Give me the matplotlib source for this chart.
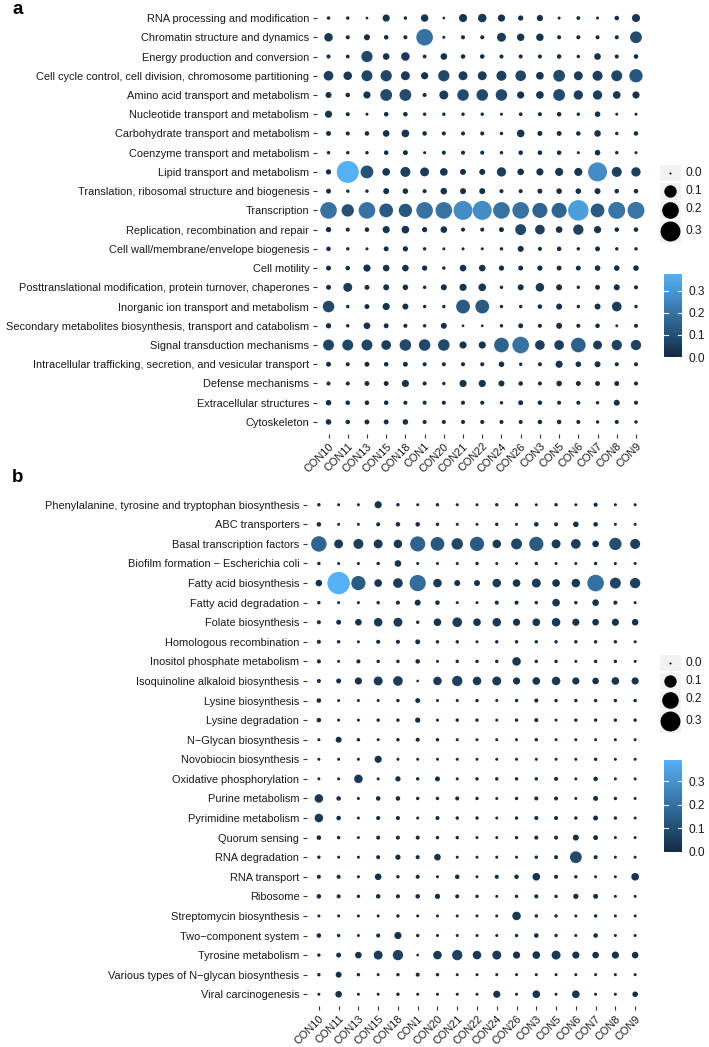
import numpy as np
import matplotlib
matplotlib.use("Agg")
import matplotlib.pyplot as plt
from matplotlib.colors import LinearSegmentedColormap, Normalize
from matplotlib.cm import ScalarMappable
from matplotlib.patches import Rectangle

plt.rcParams['font.family'] = ['Liberation Sans', 'DejaVu Sans']

# ---------------- data ----------------
samples = ["CON10", "CON11", "CON13", "CON15", "CON18", "CON1", "CON20", "CON21", "CON22",
           "CON24", "CON26", "CON3", "CON5", "CON6", "CON7", "CON8", "CON9"]

cats_a = [
    "RNA processing and modification",
    "Chromatin structure and dynamics",
    "Energy production and conversion",
    "Cell cycle control, cell division, chromosome partitioning",
    "Amino acid transport and metabolism",
    "Nucleotide transport and metabolism",
    "Carbohydrate transport and metabolism",
    "Coenzyme transport and metabolism",
    "Lipid transport and metabolism",
    "Translation, ribosomal structure and biogenesis",
    "Transcription",
    "Replication, recombination and repair",
    "Cell wall/membrane/envelope biogenesis",
    "Cell motility",
    "Posttranslational modification, protein turnover, chaperones",
    "Inorganic ion transport and metabolism",
    "Secondary metabolites biosynthesis, transport and catabolism",
    "Signal transduction mechanisms",
    "Intracellular trafficking, secretion, and vesicular transport",
    "Defense mechanisms",
    "Extracellular structures",
    "Cytoskeleton",
]

vals_a = [
    [0.002, 0.002, 0.0005, 0.025, 0.002, 0.028, 0.0005, 0.035, 0.04, 0.025, 0.01, 0.017, 0.001, 0.003, 0.001, 0.006, 0.035],
    [0.04, 0.004, 0.015, 0.006, 0.004, 0.2, 0.001, 0.004, 0.004, 0.045, 0.028, 0.028, 0.004, 0.004, 0.004, 0.004, 0.09],
    [0.004, 0.003, 0.08, 0.02, 0.04, 0.003, 0.02, 0.006, 0.006, 0.004, 0.004, 0.004, 0.006, 0.002, 0.02, 0.004, 0.006],
    [0.055, 0.04, 0.075, 0.08, 0.045, 0.025, 0.08, 0.045, 0.045, 0.06, 0.07, 0.03, 0.09, 0.045, 0.06, 0.075, 0.12],
    [0.015, 0.006, 0.025, 0.09, 0.09, 0.004, 0.045, 0.085, 0.085, 0.085, 0.025, 0.03, 0.09, 0.05, 0.05, 0.03, 0.025],
    [0.025, 0.004, 0.001, 0.006, 0.006, 0.002, 0.002, 0.002, 0.002, 0.001, 0.003, 0.004, 0.006, 0.002, 0.012, 0.001, 0.001],
    [0.008, 0.004, 0.006, 0.02, 0.03, 0.006, 0.004, 0.004, 0.004, 0.002, 0.03, 0.008, 0.008, 0.006, 0.02, 0.002, 0.006],
    [0.002, 0.002, 0.002, 0.006, 0.008, 0.001, 0.004, 0.004, 0.004, 0.002, 0.006, 0.006, 0.006, 0.001, 0.012, 0.002, 0.001],
    [0.01, 0.375, 0.11, 0.03, 0.06, 0.045, 0.03, 0.015, 0.015, 0.05, 0.02, 0.025, 0.035, 0.035, 0.27, 0.06, 0.05],
    [0.008, 0.002, 0.002, 0.015, 0.012, 0.004, 0.02, 0.015, 0.015, 0.004, 0.004, 0.008, 0.012, 0.012, 0.015, 0.006, 0.006],
    [0.2, 0.1, 0.2, 0.13, 0.12, 0.2, 0.2, 0.27, 0.27, 0.2, 0.2, 0.16, 0.16, 0.32, 0.13, 0.21, 0.21],
    [0.01, 0.004, 0.006, 0.025, 0.03, 0.01, 0.02, 0.004, 0.004, 0.008, 0.075, 0.055, 0.02, 0.065, 0.025, 0.006, 0.006],
    [0.006, 0.002, 0.001, 0.008, 0.01, 0.002, 0.001, 0.001, 0.001, 0.002, 0.015, 0.004, 0.006, 0.002, 0.008, 0.002, 0.002],
    [0.008, 0.006, 0.025, 0.02, 0.02, 0.01, 0.002, 0.02, 0.02, 0.01, 0.008, 0.01, 0.008, 0.008, 0.012, 0.012, 0.012],
    [0.008, 0.045, 0.008, 0.015, 0.012, 0.002, 0.015, 0.025, 0.03, 0.002, 0.015, 0.04, 0.015, 0.002, 0.008, 0.015, 0.004],
    [0.085, 0.002, 0.008, 0.025, 0.015, 0.002, 0.002, 0.13, 0.13, 0.002, 0.002, 0.006, 0.015, 0.002, 0.015, 0.055, 0.002],
    [0.01, 0.002, 0.02, 0.008, 0.004, 0.002, 0.015, 0.0005, 0.0005, 0.002, 0.008, 0.004, 0.015, 0.004, 0.006, 0.0008, 0.004],
    [0.075, 0.075, 0.075, 0.055, 0.085, 0.085, 0.085, 0.025, 0.025, 0.15, 0.2, 0.055, 0.055, 0.15, 0.045, 0.065, 0.065],
    [0.008, 0.004, 0.008, 0.006, 0.008, 0.004, 0.004, 0.004, 0.004, 0.012, 0.002, 0.004, 0.025, 0.012, 0.015, 0.004, 0.004],
    [0.004, 0.004, 0.008, 0.008, 0.025, 0.004, 0.002, 0.025, 0.025, 0.015, 0.006, 0.004, 0.012, 0.008, 0.008, 0.008, 0.004],
    [0.012, 0.006, 0.006, 0.006, 0.004, 0.004, 0.004, 0.004, 0.004, 0.002, 0.008, 0.006, 0.004, 0.004, 0.002, 0.015, 0.004],
    [0.012, 0.006, 0.008, 0.008, 0.012, 0.004, 0.004, 0.004, 0.004, 0.004, 0.004, 0.006, 0.006, 0.004, 0.002, 0.004, 0.002],
]

cats_b = [
    "Phenylalanine, tyrosine and tryptophan biosynthesis",
    "ABC transporters",
    "Basal transcription factors",
    "Biofilm formation \u2212 Escherichia coli",
    "Fatty acid biosynthesis",
    "Fatty acid degradation",
    "Folate biosynthesis",
    "Homologous recombination",
    "Inositol phosphate metabolism",
    "Isoquinoline alkaloid biosynthesis",
    "Lysine biosynthesis",
    "Lysine degradation",
    "N\u2212Glycan biosynthesis",
    "Novobiocin biosynthesis",
    "Oxidative phosphorylation",
    "Purine metabolism",
    "Pyrimidine metabolism",
    "Quorum sensing",
    "RNA degradation",
    "RNA transport",
    "Ribosome",
    "Streptomycin biosynthesis",
    "Two\u2212component system",
    "Tyrosine metabolism",
    "Various types of N\u2212glycan biosynthesis",
    "Viral carcinogenesis",
]

vals_b = [
    [0.002, 0.001, 0.001, 0.025, 0.002, 0.001, 0.002, 0.001, 0.001, 0.002, 0.002, 0.001, 0.002, 0.001, 0.004, 0.001, 0.001],
    [0.006, 0.001, 0.001, 0.004, 0.006, 0.006, 0.002, 0.001, 0.001, 0.002, 0.001, 0.006, 0.004, 0.012, 0.006, 0.001, 0.001],
    [0.17, 0.045, 0.06, 0.045, 0.04, 0.16, 0.13, 0.085, 0.14, 0.04, 0.075, 0.14, 0.045, 0.055, 0.02, 0.1, 0.06],
    [0.002, 0.001, 0.001, 0.002, 0.02, 0.001, 0.001, 0.001, 0.002, 0.001, 0.001, 0.002, 0.001, 0.001, 0.002, 0.001, 0.001],
    [0.02, 0.39, 0.14, 0.03, 0.055, 0.19, 0.04, 0.015, 0.015, 0.04, 0.03, 0.045, 0.03, 0.04, 0.2, 0.075, 0.065],
    [0.002, 0.001, 0.001, 0.002, 0.004, 0.015, 0.006, 0.001, 0.001, 0.004, 0.004, 0.002, 0.03, 0.002, 0.02, 0.004, 0.001],
    [0.004, 0.008, 0.02, 0.04, 0.045, 0.002, 0.03, 0.055, 0.03, 0.04, 0.025, 0.03, 0.04, 0.025, 0.02, 0.025, 0.02],
    [0.004, 0.002, 0.001, 0.004, 0.004, 0.008, 0.002, 0.002, 0.001, 0.002, 0.002, 0.002, 0.002, 0.002, 0.002, 0.002, 0.001],
    [0.004, 0.001, 0.004, 0.002, 0.002, 0.006, 0.001, 0.002, 0.002, 0.002, 0.04, 0.002, 0.002, 0.001, 0.002, 0.002, 0.001],
    [0.004, 0.008, 0.025, 0.045, 0.055, 0.0005, 0.04, 0.065, 0.04, 0.045, 0.025, 0.03, 0.04, 0.025, 0.02, 0.03, 0.025],
    [0.006, 0.001, 0.001, 0.001, 0.002, 0.008, 0.001, 0.001, 0.002, 0.001, 0.002, 0.004, 0.002, 0.002, 0.002, 0.002, 0.002],
    [0.006, 0.001, 0.001, 0.002, 0.002, 0.01, 0.001, 0.002, 0.002, 0.001, 0.002, 0.004, 0.001, 0.002, 0.002, 0.002, 0.002],
    [0.001, 0.015, 0.002, 0.001, 0.002, 0.004, 0.002, 0.001, 0.001, 0.001, 0.001, 0.002, 0.001, 0.001, 0.001, 0.001, 0.001],
    [0.001, 0.001, 0.001, 0.025, 0.001, 0.001, 0.001, 0.001, 0.001, 0.001, 0.001, 0.001, 0.001, 0.001, 0.002, 0.001, 0.001],
    [0.001, 0.001, 0.04, 0.001, 0.01, 0.002, 0.008, 0.001, 0.002, 0.002, 0.002, 0.002, 0.004, 0.001, 0.006, 0.001, 0.001],
    [0.04, 0.006, 0.001, 0.006, 0.006, 0.002, 0.002, 0.004, 0.002, 0.001, 0.002, 0.004, 0.004, 0.001, 0.008, 0.002, 0.001],
    [0.04, 0.006, 0.001, 0.004, 0.004, 0.001, 0.004, 0.002, 0.002, 0.001, 0.002, 0.004, 0.004, 0.002, 0.008, 0.002, 0.001],
    [0.006, 0.002, 0.001, 0.004, 0.004, 0.004, 0.002, 0.002, 0.001, 0.001, 0.002, 0.004, 0.004, 0.015, 0.008, 0.001, 0.001],
    [0.002, 0.001, 0.001, 0.004, 0.01, 0.004, 0.02, 0.001, 0.001, 0.001, 0.001, 0.002, 0.004, 0.09, 0.004, 0.001, 0.001],
    [0.004, 0.004, 0.001, 0.02, 0.002, 0.004, 0.001, 0.006, 0.001, 0.004, 0.006, 0.03, 0.004, 0.002, 0.001, 0.001, 0.03],
    [0.006, 0.004, 0.002, 0.006, 0.004, 0.006, 0.01, 0.004, 0.002, 0.001, 0.002, 0.004, 0.002, 0.01, 0.008, 0.001, 0.001],
    [0.001, 0.001, 0.001, 0.001, 0.002, 0.001, 0.001, 0.001, 0.001, 0.001, 0.04, 0.002, 0.002, 0.001, 0.002, 0.001, 0.001],
    [0.006, 0.002, 0.001, 0.004, 0.025, 0.002, 0.001, 0.001, 0.001, 0.001, 0.002, 0.006, 0.002, 0.001, 0.006, 0.001, 0.001],
    [0.002, 0.008, 0.02, 0.045, 0.065, 0.0005, 0.04, 0.065, 0.04, 0.045, 0.025, 0.03, 0.045, 0.025, 0.02, 0.025, 0.02],
    [0.002, 0.015, 0.002, 0.001, 0.002, 0.004, 0.002, 0.001, 0.001, 0.001, 0.001, 0.001, 0.001, 0.001, 0.001, 0.001, 0.001],
    [0.001, 0.02, 0.001, 0.001, 0.002, 0.001, 0.001, 0.001, 0.001, 0.025, 0.001, 0.03, 0.001, 0.03, 0.001, 0.001, 0.012],
]

legend_sizes = [0.0, 0.1, 0.2, 0.3]
legend_size_labels = ["0.0", "0.1", "0.2", "0.3"]
cbar_ticks = [0.0, 0.1, 0.2, 0.3]

# ---------------- style ----------------
DPI = 100
W, H = 709, 1047
fig = plt.figure(figsize=(W / DPI, H / DPI), dpi=DPI)
cmap = LinearSegmentedColormap.from_list("gg", ["#132B43", "#56B1F7"])
TXT = "#1a1a1a"
FS = 7.9
LFS = 8.6


def diam_px(v):
    return 2.0 + 32.7 * np.sqrt(np.maximum(np.asarray(v, float), 0.0))


def s_pts(v):
    return (diam_px(v) * 72.0 / DPI) ** 2


def px_axes(l, t, r, b):
    return fig.add_axes([l / W, 1 - b / H, (r - l) / W, (b - t) / H])


def dot_panel(ax, cats, vals):
    V = np.array(vals)
    vmax = V.max()
    nr, nc = V.shape
    xx, yy = np.meshgrid(np.arange(nc), np.arange(nr))
    ax.scatter(xx.ravel(), yy.ravel(), s=s_pts(V.ravel()), c=V.ravel(),
               cmap=cmap, vmin=0, vmax=vmax, linewidths=0, zorder=3)
    ax.set_xlim(-0.6, nc - 0.4)
    ax.set_ylim(nr - 0.4, -0.6)
    ax.set_xticks(range(nc))
    ax.set_xticklabels(samples, rotation=45, ha="right", va="top",
                       rotation_mode="anchor", fontsize=FS, color=TXT)
    ax.set_yticks(range(nr))
    ax.set_yticklabels(cats, fontsize=FS, color=TXT)
    for sp in ax.spines.values():
        sp.set_visible(False)
    ax.tick_params(length=3, width=0.8, color="#333333", pad=2.5)
    return vmax


def size_legend(lax, cx, centers, heights):
    for v, lab, cy, h in zip(legend_sizes, legend_size_labels, centers, heights):
        lax.add_patch(Rectangle((cx - 10.5, cy - h / 2 + 0.5), 21, h - 1,
                                facecolor="#F2F2F2", edgecolor="none"))
        lax.scatter([cx], [cy], s=s_pts(v), color="black", linewidths=0)
        lax.text(cx + 16, cy, lab, fontsize=LFS, color=TXT, va="center", ha="left")


def color_bar(l, t, r, b, vmax):
    cax = px_axes(l, t, r, b)
    cb = fig.colorbar(ScalarMappable(norm=Normalize(0, vmax), cmap=cmap), cax=cax)
    cb.outline.set_visible(False)
    cb.set_ticks(cbar_ticks)
    cax.set_yticklabels(["%.1f" % t for t in cbar_ticks])
    cax.tick_params(length=0, labelsize=LFS, labelcolor=TXT, pad=5)
    tr = cax.get_yaxis_transform()
    for tk in cbar_ticks:
        cax.plot([0, 0.2], [tk, tk], color="white", lw=0.8, transform=tr)
        cax.plot([0.8, 1], [tk, tk], color="white", lw=0.8, transform=tr)


# panel a
ax_a = px_axes(317, 6.5, 647.5, 433.5)
vmax_a = dot_panel(ax_a, cats_a, vals_a)
# panel b
ax_b = px_axes(307, 493, 647, 1006)
vmax_b = dot_panel(ax_b, cats_b, vals_b)

# legends
lax = fig.add_axes([0, 0, 1, 1], zorder=5)
lax.set_xlim(0, W)
lax.set_ylim(H, 0)
lax.axis("off")
size_legend(lax, 670, [173, 191, 209.5, 231], [17, 18, 19, 24])
size_legend(lax, 670, [663, 681, 699.5, 721], [17, 18, 19, 24])

color_bar(664, 274, 682, 357, vmax_a)
color_bar(664, 760, 682, 852, vmax_b)

fig.text(12 / W, 1 - 9 / H, "a", fontsize=13.5, fontweight="bold", va="center", ha="left")
fig.text(12 / W, 1 - 478 / H, "b", fontsize=13.5, fontweight="bold", va="center", ha="left")

fig.savefig("out.png", dpi=DPI, facecolor="white")
